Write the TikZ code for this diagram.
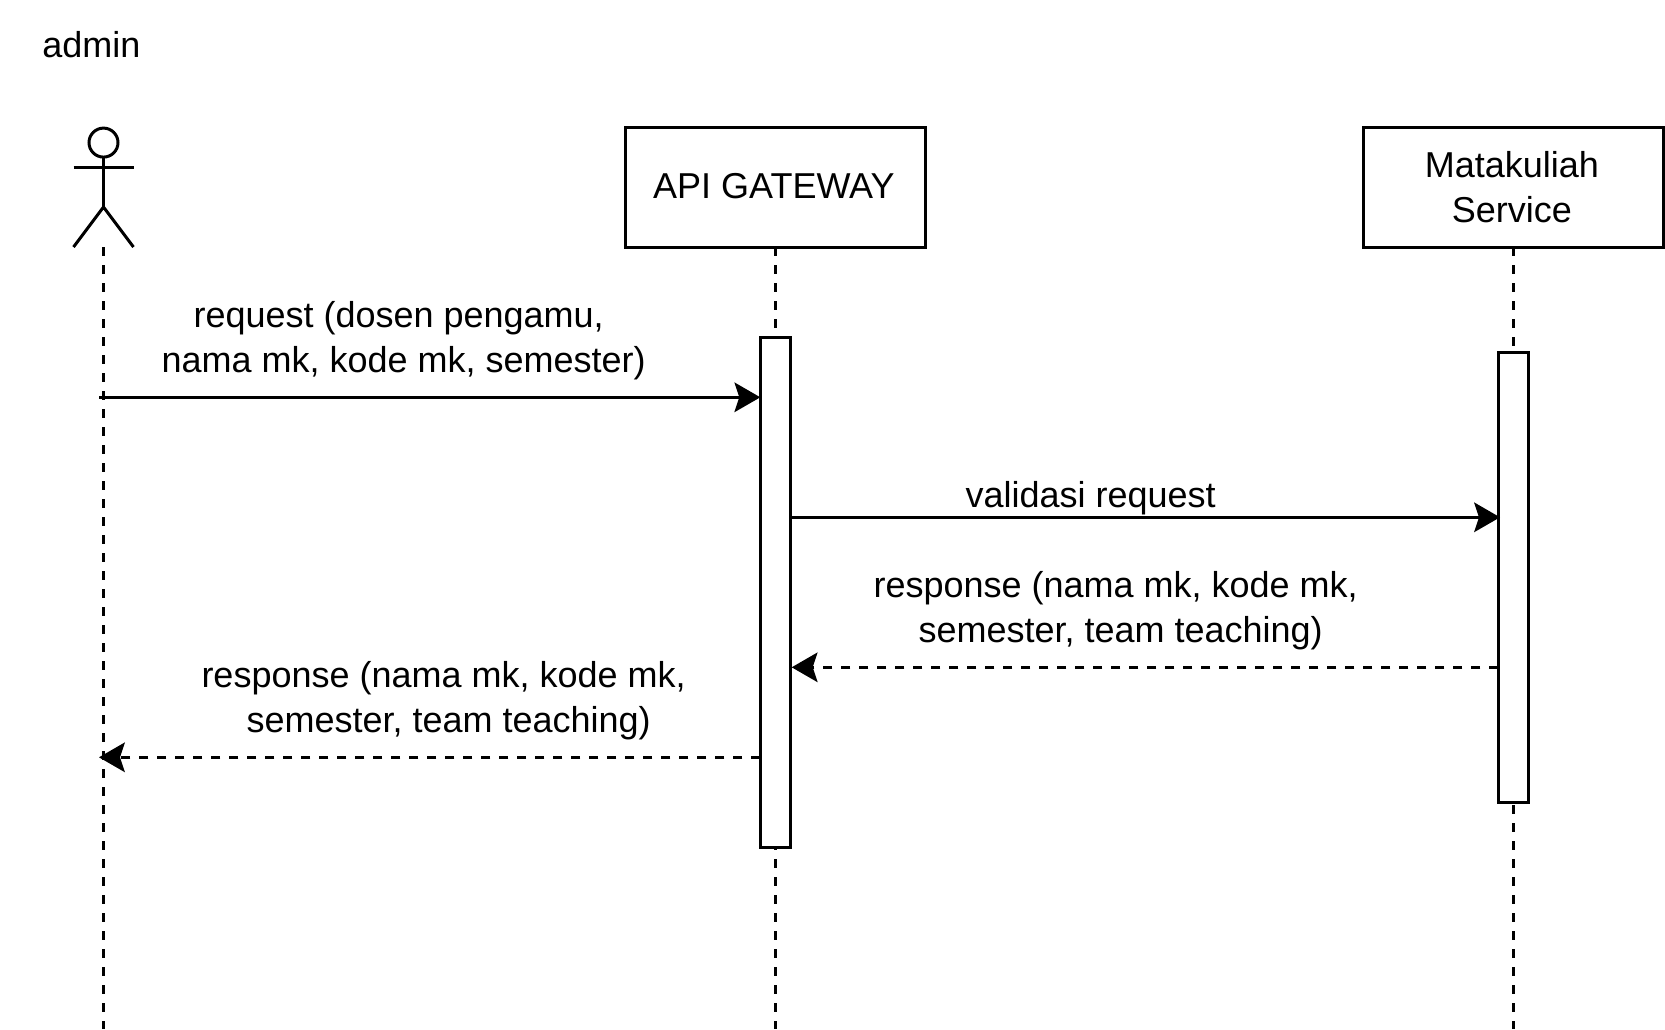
\documentclass[tikz,border=0pt]{standalone}
\usepackage{fontspec}
\setmainfont{Liberation Sans}
\usetikzlibrary{arrows.meta}
\tikzset{
  lbl/.style={inner sep=0pt,outer sep=0pt,align=center,font=\fontsize{36}{44.6}\selectfont,text=black},
  partbox/.style={draw=black,line width=3pt,fill=white,minimum width=300pt,minimum height=120pt,inner sep=0pt,outer sep=0pt},
  actbox/.style={draw=black,line width=3pt,fill=white,minimum width=30.4pt,inner sep=0pt,outer sep=0pt},
  life/.style={line width=3.2pt,black,dash pattern=on 9pt off 9pt},
  figure/.style={line width=3pt,black},
  msg/.style={line width=3.2pt,black,-{Stealth[length=26pt,width=30pt,inset=5pt,line width=0pt]}},
  reply/.style={msg,dash pattern=on 9pt off 9pt},
}
\newcommand{\spc}{\kern10pt}
\begin{document}
\begin{tikzpicture}[x=1pt,y=-1pt]
\useasboundingbox (0,0) rectangle (1665,1029);
\fill[white] (0,0) rectangle (1665,1029);
% coordinates
\coordinate (actorbase) at (103.5,247);
\coordinate (actorbot) at (103.5,1029);
\coordinate (apibot) at (775.5,1029);
\coordinate (matbot) at (1513.3,1029);
% lifelines
\node[partbox] (api) at (775.5,187.3) {};
\node[partbox] (mat) at (1513.3,187.3) {};
\draw[life] (actorbase) -- (actorbot);
\draw[life] (api.south) -- (apibot);
\draw[life] (mat.south) -- (matbot);
% activation
\node[actbox,minimum height=509.6pt] (actA) at (775.5,592.5) {};
\node[actbox,minimum height=450.6pt] (actM) at (1513.5,577.4) {};
% actor
\node[draw=black,line width=3pt,circle,minimum size=29pt,inner sep=0pt,outer sep=0pt] (head) at (103.5,142.6) {};
\coordinate (hip) at (103.5,207);
\coordinate (armL) at (73.5,167);
\coordinate (armR) at (133.5,167);
\coordinate (legL) at (73.5,247);
\coordinate (legR) at (133.5,247);
\draw[figure] (head.south) -- (hip);
\draw[figure] (armL) -- (armR);
\draw[figure] (legL) -- (hip) -- (legR);
% labels
\node[lbl] (admin) at (91.3,45) {admin};
\node[lbl] (apit) at (773.8,186) {API GATEWAY};
\node[lbl] (matt) at (1511.8,187) {Matakuliah\\Service};
\node[lbl] (reqt) at (403.7,340.9) {request (dosen pengamu,\spc\\nama mk, kode mk, semester)};
\node[lbl] (valt) at (1090.6,498.2) {validasi request};
\node[lbl] (res1t) at (1115.6,610.6) {response (nama mk, kode mk,\\\spc semester, team teaching)};
\node[lbl] (res2t) at (443.6,700.9) {response (nama mk, kode mk,\\\spc semester, team teaching)};
% messages
\coordinate (m1s) at (99,397.3);
\coordinate (m2e) at (1500,517.3);
\coordinate (m3s) at (1498.3,667.3);
\coordinate (m4e) at (99,757.3);
\draw[msg] (m1s) -- (actA.west |- m1s);
\draw[msg] (actA.east |- m2e) -- (m2e);
\draw[reply] (m3s) -- ([xshift=1pt]actA.east |- m3s);
\draw[reply] (actA.west |- m4e) -- (m4e);
\end{tikzpicture}
\end{document}
